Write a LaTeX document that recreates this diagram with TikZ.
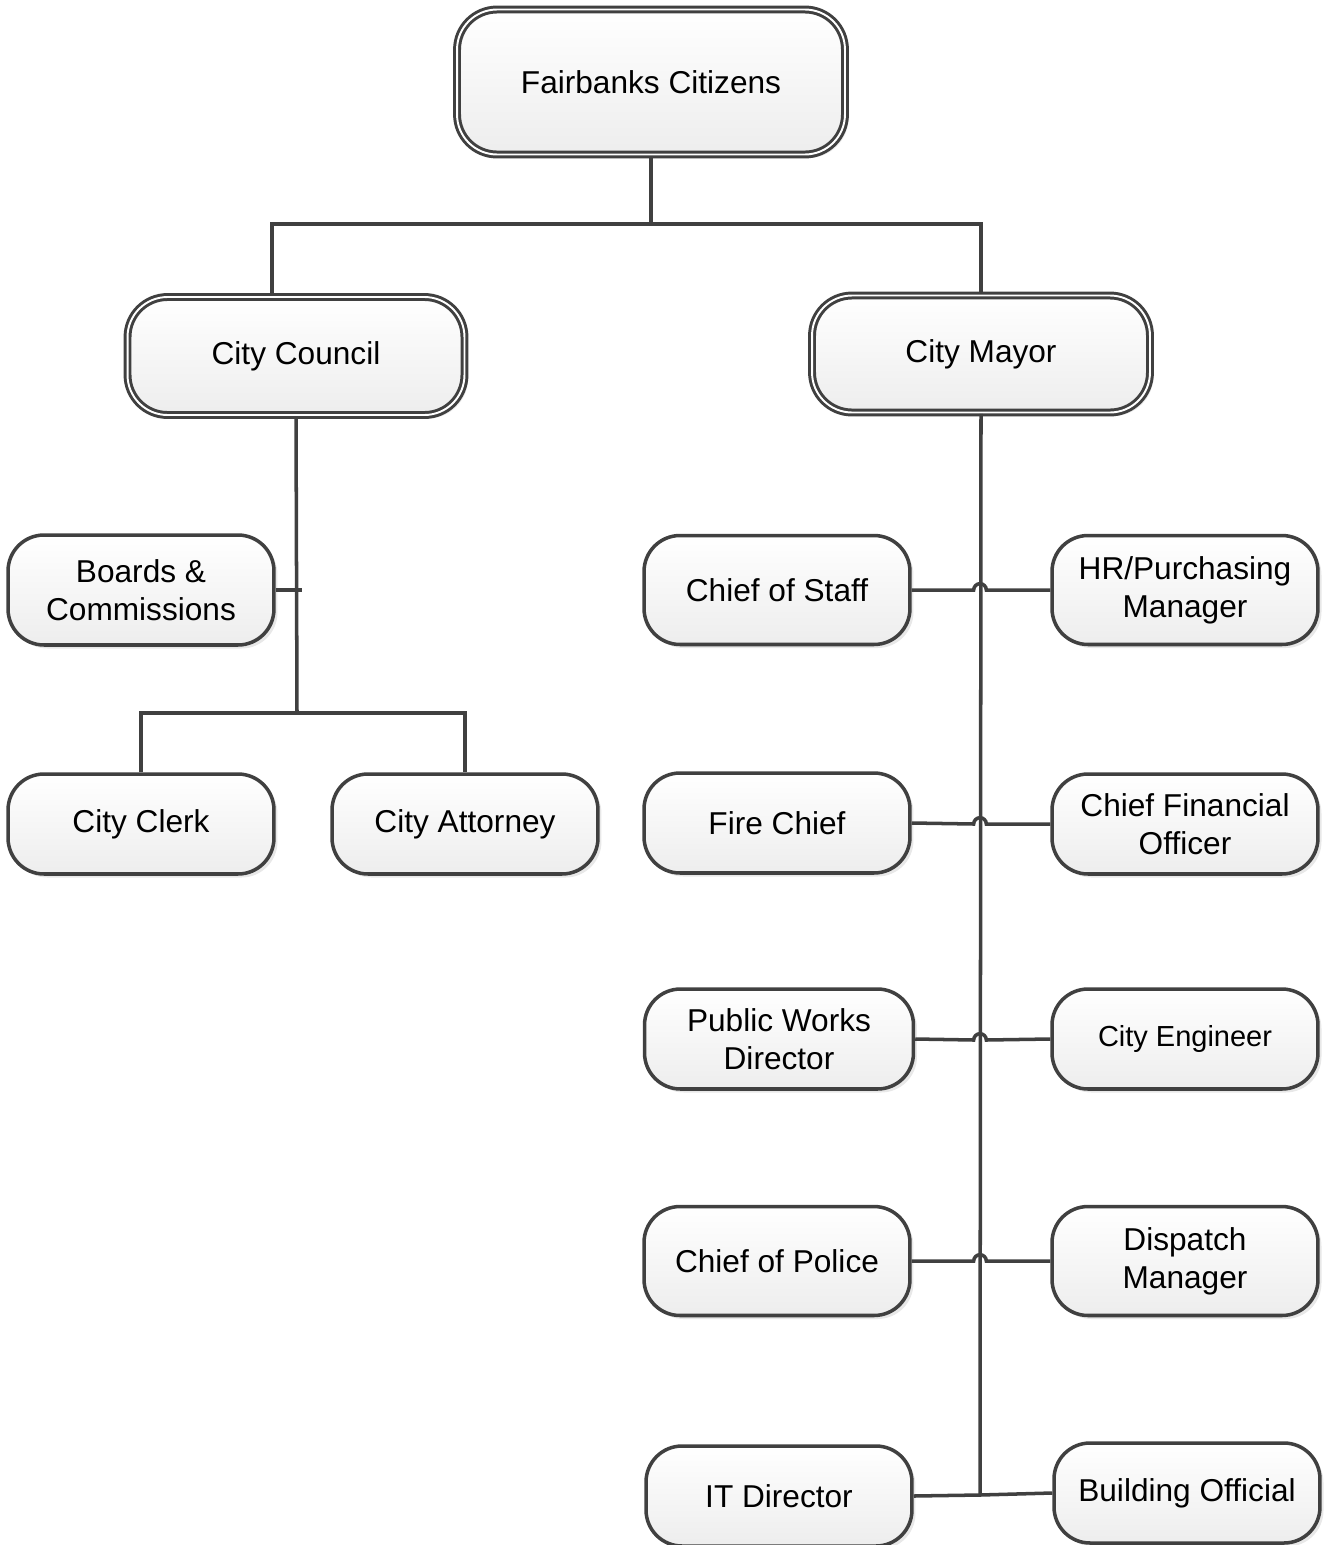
\documentclass[tikz,border=0pt]{standalone}
\usepackage{fontspec}
\setmainfont{Liberation Sans}
\usetikzlibrary{shadows}
\definecolor{linegray}{RGB}{64,64,64}
\tikzset{
  box/.style={draw=linegray, line width=2pt, rounded corners=0.72cm,
    top color=white, bottom color=black!7,
    drop shadow={opacity=0.18, shadow xshift=2pt, shadow yshift=-2pt},
    minimum width=5.32cm, minimum height=2.0cm, align=center, inner sep=2pt,
    font=\fontsize{18}{21.6}\selectfont},
  mainbox/.style={box, double=white, double distance=1.1pt, line width=1.7pt,
    rounded corners=0.8cm},
  link/.style={draw=linegray, line width=2pt},
  jump/.style={link, rounded corners=0pt}
}
\newcommand{\hop}[3]{\draw[jump] (#1.east) -- ([xshift=-3.6pt]#2) arc[start angle=180, end angle=0, radius=3.6pt] -- (#3.west);}
\begin{document}
\begin{tikzpicture}[x=0.02cm, y=-0.02cm]
\useasboundingbox (0,0) rectangle (1325,1545);

\node[mainbox, minimum width=7.76cm, minimum height=2.9cm] (fc) at (651,82) {Fairbanks Citizens};
\node[mainbox, minimum width=6.74cm, minimum height=2.36cm] (council) at (296,356) {City Council};
\node[mainbox, minimum width=6.76cm, minimum height=2.34cm] (mayor) at (981,354) {City Mayor};

\node[box, minimum height=2.2cm] (bc) at (141,590) {Boards \&\\Commissions};
\node[box] (clerk) at (141,824) {City Clerk};
\node[box] (att) at (465,824) {City Attorney};

\node[box, minimum height=2.18cm] (cos) at (777,590) {Chief of Staff};
\node[box, minimum height=2.18cm] (hr) at (1185,590) {HR/Purchasing\\Manager};
\node[box] (fire) at (777,823) {Fire Chief};
\node[box] (cfo) at (1185,824) {Chief Financial\\Officer};
\node[box, minimum width=5.38cm] (pwd) at (779,1039) {Public Works\\Director};
\node[box, font=\fontsize{16.5}{20}\selectfont] (eng) at (1185,1039) {City Engineer};
\node[box, minimum height=2.18cm] (police) at (777,1261) {Chief of Police};
\node[box, minimum height=2.18cm] (disp) at (1185,1261) {Dispatch\\Manager};
\node[box] (it) at (779,1496) {IT Director};
\node[box] (bo) at (1187,1493) {Building Official};

\coordinate (top) at (651,224);
\coordinate (cc) at (297,713);
\coordinate (spine) at (980,1495);
\coordinate (j1) at (980,590);
\coordinate (j2) at (980,824);
\coordinate (j3) at (980,1040);
\coordinate (j4) at (980,1261);

\draw[link] (fc.south) -- (top);
\draw[link] ([xshift=-0.48cm]council.north) |- (top) -| (mayor.north);
\draw[link] (council.south) -- (cc);
\draw[link] (bc.east) -- ([xshift=3pt]bc.east -| cc);
\draw[link] (clerk.north) |- (cc) -| (att.north);
\draw[link] (mayor.south) -- (spine);
\hop{cos}{j1}{hr}
\hop{fire}{j2}{cfo}
\hop{pwd}{j3}{eng}
\hop{police}{j4}{disp}
\draw[link] (it.east) -- (spine) -- (bo.west);
\end{tikzpicture}
\end{document}
